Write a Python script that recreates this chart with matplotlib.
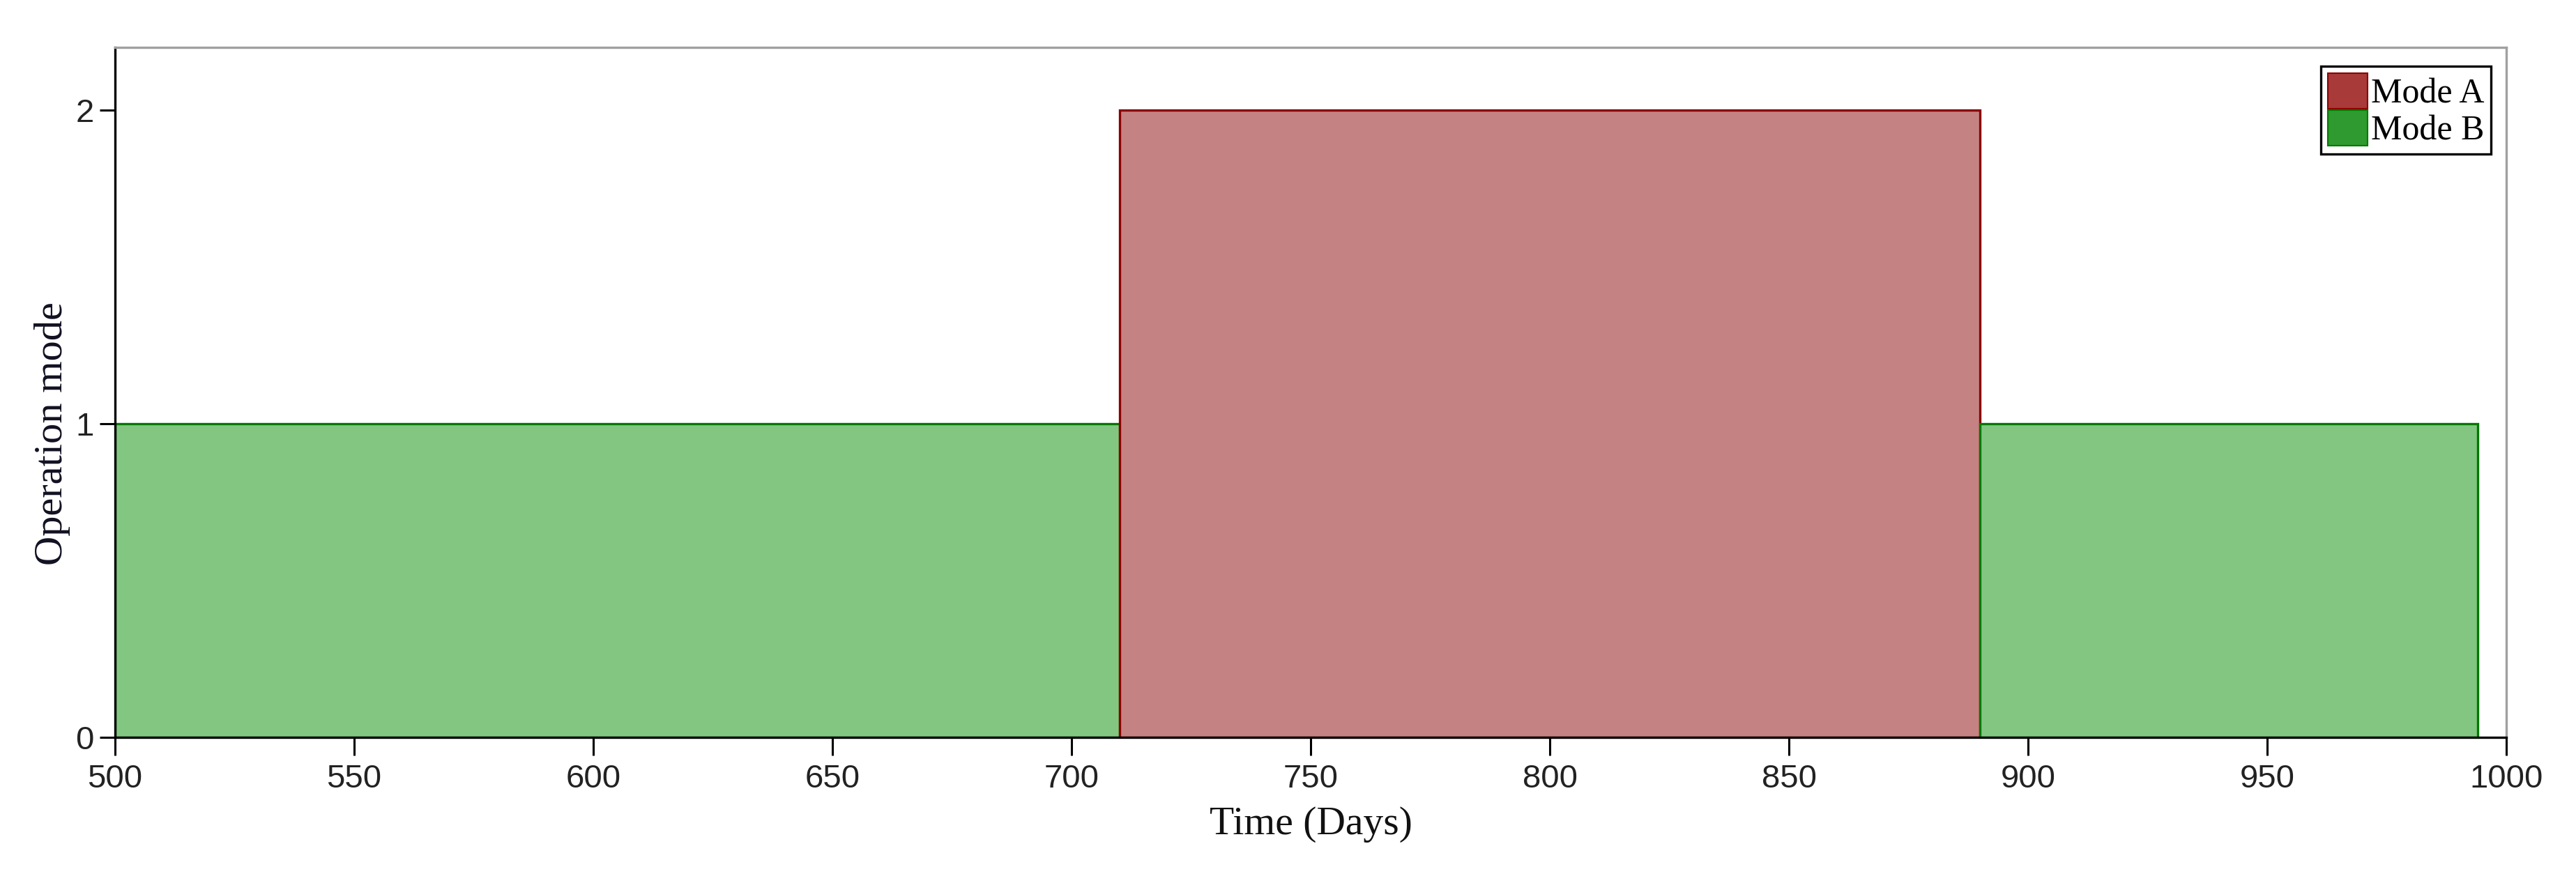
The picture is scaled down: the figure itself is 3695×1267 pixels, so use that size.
import numpy as np
import matplotlib
matplotlib.use("Agg")
import matplotlib.pyplot as plt
from matplotlib.patches import Patch

# ---- data ----
seg_start = [500, 710, 890]
seg_end = [710, 890, 994]
seg_value = [1, 2, 1]
seg_mode = ["Mode B", "Mode A", "Mode B"]
mode_names = ["Mode A", "Mode B"]
x_ticks = [500, 550, 600, 650, 700, 750, 800, 850, 900, 950, 1000]
y_ticks = [0, 1, 2]

fill_col = {"Mode A": "#c58282", "Mode B": "#82c682"}
edge_col = {"Mode A": "#8b0000", "Mode B": "#007a00"}
legend_col = {"Mode A": "#a83a3a", "Mode B": "#2f9a2f"}

W, H, DPI = 3695, 1267, 100
fig = plt.figure(figsize=(W / DPI, H / DPI), dpi=DPI)
L, R, B, T = 165, 3595, 1058, 68
ax = fig.add_axes([L / W, (H - B) / H, (R - L) / W, (B - T) / H])

starts = np.array(seg_start, float)
widths = np.array(seg_end, float) - starts
for s, w, v, m in zip(starts, widths, seg_value, seg_mode):
    ax.bar(s, v, width=w, align="edge", color=fill_col[m],
           edgecolor=edge_col[m], linewidth=2.4, zorder=2)

ax.set_xlim(500, 1000)
ax.set_ylim(0, 2.2)
ax.set_xticks(x_ticks)
ax.set_yticks(y_ticks)

tick_font = ["Liberation Sans Narrow", "Liberation Sans", "DejaVu Sans"]
for lab in ax.get_xticklabels() + ax.get_yticklabels():
    lab.set_family(tick_font)
    lab.set_fontsize(34)
    lab.set_color("#222222")
ax.tick_params(axis="x", direction="out", length=19, width=2.2, pad=8, colors="black")
ax.tick_params(axis="y", direction="out", length=16, width=2.2, pad=6, colors="black")
for lab in ax.get_xticklabels() + ax.get_yticklabels():
    lab.set_color("#222222")

for side in ["left", "bottom"]:
    ax.spines[side].set_color("black")
    ax.spines[side].set_linewidth(2.4)
for side in ["top", "right"]:
    ax.spines[side].set_color("#a0a0a0")
    ax.spines[side].set_linewidth(2.4)

serif = ["Liberation Serif", "DejaVu Serif"]
ax.set_xlabel("Time (Days)", family=serif, fontsize=41.5, color="#111111")
ax.xaxis.set_label_coords(0.5, -(1183 - B) / (B - T), transform=ax.transAxes)
ax.set_ylabel("Operation mode", family=serif, fontsize=42, color="#111122")
ax.yaxis.set_label_coords(-(165 - 75) / (R - L), (B - 622) / (B - T))
ax.xaxis.label.set_va("center")
ax.yaxis.label.set_va("center")

handles = [Patch(facecolor=legend_col[m], edgecolor=edge_col[m], linewidth=1.5)
           for m in mode_names]
leg = ax.legend(handles, mode_names, loc="upper right",
                bbox_to_anchor=(3573 / W, (H - 95) / H),
                bbox_transform=fig.transFigure, borderaxespad=0,
                prop={"family": serif, "size": 36},
                handlelength=1.14, handleheight=1.18, handletextpad=0.1,
                labelspacing=0.0, borderpad=0.2, fancybox=False, framealpha=1)
leg.get_frame().set_edgecolor("black")
leg.get_frame().set_linewidth(2.4)

fig.savefig("out.png", dpi=DPI)
